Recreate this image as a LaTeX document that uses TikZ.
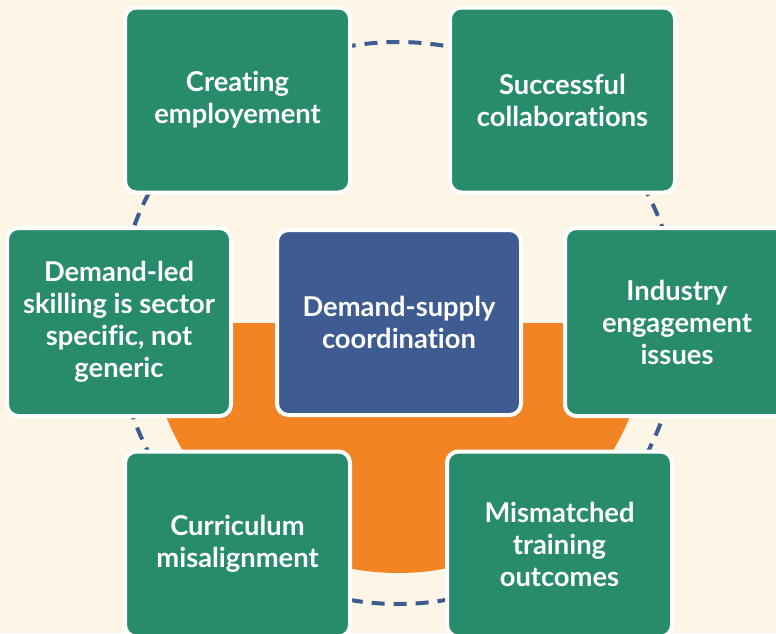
\documentclass[tikz,border=0pt]{standalone}
\usepackage{fontspec}
\setmainfont{Lato}[Ligatures=NoCommon]

\definecolor{cream}{HTML}{FDF5E6}
\definecolor{leafgreen}{HTML}{288C6C}
\definecolor{hubblue}{HTML}{3E5C91}
\definecolor{ringorange}{HTML}{F38423}

\begin{document}
\begin{tikzpicture}[x=0.75pt, y=-0.75pt,
    box/.style = {draw=white, line width=3pt, fill=leafgreen, rounded corners=8.5pt,
                  minimum width=168.75pt, minimum height=138.75pt, inner sep=0pt,
                  align=center, text=white, font=\fontsize{20.5}{24}\selectfont\bfseries},
    side/.style = {box, minimum width=168pt, minimum height=141pt},
    hub/.style = {box, fill=hubblue, minimum width=183pt}]
      % page and frame
      \fill[cream] (0,0) rectangle (776,633);
      \useasboundingbox (0,0) rectangle (776,633);
      \clip (0,0) rectangle (776,633);
      % orange half disc and dashed ring
      \fill[ringorange] (148,323) arc[start angle=180, end angle=360, radius=187.5pt] -- cycle;
      \draw[hubblue, line width=3pt, dash pattern=on 9.75pt off 6.75pt] (398,323) circle[radius=210.75pt];
      % the boxes
      \node[hub] (hub) at (399,322.5) {Demand-supply\\coordination};
      \node[box] (create) at (237.5,100) {Creating\\employement};
      \node[box] (collab) at (562.5,100) {Successful\\collaborations};
      \node[side] (sector) at (119,322) {Demand-led\\skilling is sector\\specific, not\\generic};
      \node[side] (industry) at (677,322) {Industry\\engagement\\issues};
      \node[box] (curriculum) at (237.5,544) {Curriculum\\misalignment};
      \node[box] (mismatch) at (559.5,544) {Mismatched\\training\\outcomes};
    \end{tikzpicture}
\end{document}
